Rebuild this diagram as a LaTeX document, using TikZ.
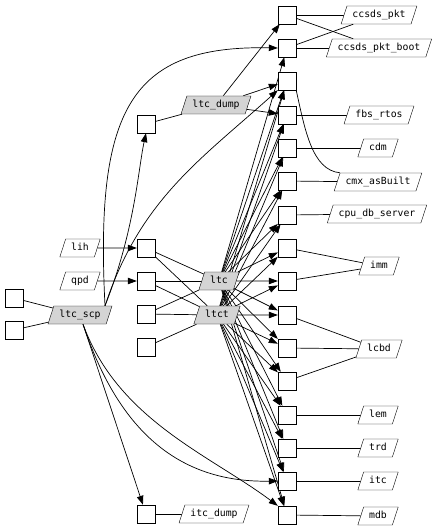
\documentclass[tikz,border=0pt]{standalone}
\usepackage{fontspec}
\setmonofont{DejaVu Sans Mono}
\usetikzlibrary{arrows.meta, shapes.geometric, backgrounds}

\begin{document}
\begin{tikzpicture}[x=1pt, y=-1pt,
    font=\ttfamily\fontsize{9.8}{10}\selectfont,
    fnbox/.style={draw, fill=white, minimum size=18pt, inner sep=0pt},
    filebox/.style={draw, fill=white, trapezium, trapezium left angle=72,
      trapezium right angle=108, trapezium stretches=true,
      minimum height=18pt, inner xsep=5.5pt,
      inner ysep=4.5pt, text height=7pt, text depth=2pt},
    srcfile/.style={filebox, fill=black!17},
    arr/.style={-{Triangle[length=9pt, width=6.5pt]}, line width=0.7pt},
    ln/.style={line width=0.7pt}
  ]
  \useasboundingbox (0,0) rectangle (440,529);

  % left side
  \node[fnbox] (l1) at (14,298) {};
  \node[fnbox] (l2) at (14,330) {};
  \node[srcfile] (scp) at (80,315) {ltc\_scp};
  \node[filebox] (lih) at (80,248) {lih};
  \node[filebox] (qpd) at (80,281) {qpd};

  % middle column
  \node[fnbox] (dbox) at (146,124) {};
  \node[fnbox] (b248) at (146,248) {};
  \node[fnbox] (b281) at (146,281) {};
  \node[fnbox] (b314) at (146,314) {};
  \node[fnbox] (b347) at (146,347) {};
  \node[fnbox] (ibox) at (146,514) {};
  \node[srcfile] (dump) at (216,105) {ltc\_dump};
  \node[srcfile] (ltc) at (219,281) {ltc};
  \node[srcfile] (ltct) at (217,315) {ltct};
  \node[filebox] (idump) at (214,514) {itc\_dump};

  % right column
  \node[fnbox] (r0) at (287,15) {};
  \node[fnbox] (r1) at (287,48) {};
  \node[fnbox] (r2) at (287,81) {};
  \node[fnbox] (r3) at (287,115) {};
  \node[fnbox] (r4) at (287,148) {};
  \node[fnbox] (r5) at (287,181) {};
  \node[fnbox] (r6) at (287,215) {};
  \node[fnbox] (r7) at (287,248) {};
  \node[fnbox] (r8) at (287,281) {};
  \node[fnbox] (r9) at (287,315) {};
  \node[fnbox] (r10) at (287,348) {};
  \node[fnbox] (r11) at (287,381) {};
  \node[fnbox] (r12) at (287,415) {};
  \node[fnbox] (r13) at (287,448) {};
  \node[fnbox] (r14) at (287,481) {};
  \node[fnbox] (r15) at (287,515) {};

  \node[filebox] (pkt) at (379,15) {ccsds\_pkt};
  \node[filebox] (boot) at (379,48) {ccsds\_pkt\_boot};
  \node[filebox] (fbs) at (379,115) {fbs\_rtos};
  \node[filebox] (cdm) at (378,148) {cdm};
  \node[filebox] (cmx) at (378,182) {cmx\_asBuilt};
  \node[filebox] (cpu) at (377,214) {cpu\_db\_server};
  \node[filebox] (imm) at (379,266) {imm};
  \node[filebox] (lcbd) at (379,349) {lcbd};
  \node[filebox] (lem) at (378,415) {lem};
  \node[filebox] (trd) at (378,448) {trd};
  \node[filebox] (itc) at (378,481) {itc};
  \node[filebox] (mdb) at (378,516) {mdb};

  \coordinate (scptop) at ([xshift=25pt]scp.north);
  \coordinate (scpbot) at ([xshift=3pt]scp.south);

  \begin{pgfonlayer}{background}
  % plain links
  \draw[ln] (l1) -- (scp);
  \draw[ln] (l2) -- (scp);
  \draw[ln] (dbox) -- (dump);
  \draw[ln] (ibox) -- (idump);
  \draw[ln] (b248) -- (ltc);
  \draw[ln] (b248) -- (ltct);
  \draw[ln] (b281) -- (ltc);
  \draw[ln] (b281) -- (ltct);
  \draw[ln] (b314) -- (ltc);
  \draw[ln] (b314) -- (ltct);
  \draw[ln] (b347) -- (ltct);

  \draw[ln] (r0) -- (pkt);
  \draw[ln] (r0) -- (boot);
  \draw[ln] (r1) -- (boot);
  \draw[ln] (r1) -- (pkt);
  \draw[ln] (r2.south east) .. controls (305,130) and (312,170) .. (cmx.top left corner);
  \draw[ln] (r3) -- (fbs);
  \draw[ln] (r4) -- (cdm);
  \draw[ln] (r5) -- (cmx);
  \draw[ln] (r6) -- (cpu);
  \draw[ln] (r7) -- (imm);
  \draw[ln] (r8) -- (imm);
  \draw[ln] (r9) -- (lcbd);
  \draw[ln] (r10) -- (lcbd);
  \draw[ln] (r11) -- (lcbd);
  \draw[ln] (r12) -- (lem);
  \draw[ln] (r13) -- (trd);
  \draw[ln] (r14) -- (itc);
  \draw[ln] (r15) -- (mdb);

  % calls
  \draw[arr] (lih) -- (b248);
  \draw[arr] (qpd) -- (b281);
  \draw[arr] (scptop) .. controls (135,230) and (138,170) .. (dbox.south);
  \draw[arr] (scptop) .. controls (95,110) and (130,45) .. (r1.west);
  \draw[arr] (scptop) .. controls (140,200) and (200,160) .. (r2.south west);
  \draw[arr] (scpbot) -- (ibox);
  \draw[arr] (scpbot) .. controls (115,420) and (170,483) .. (r14.west);
  \draw[arr] (scpbot) .. controls (118,420) and (210,455) .. (r15.north west);
  \draw[arr] (dump) -- (r0);
  \draw[arr] (dump) -- (r2);
  \draw[arr] (dump) -- (r3);
  \foreach \i in {1,...,15}
    \draw[arr] (ltc) -- (r\i);
  \foreach \i in {2,...,15}
    \draw[arr] (ltct) -- (r\i);
  \end{pgfonlayer}
\end{tikzpicture}
\end{document}
